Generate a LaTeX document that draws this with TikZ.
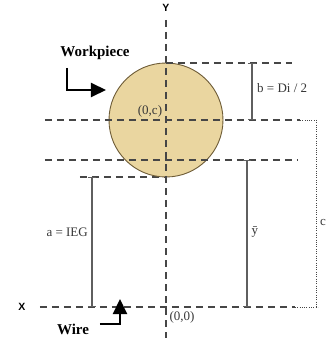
\documentclass[tikz,border=0pt]{standalone}
\usepackage{fontspec}
\setmainfont{Liberation Serif}
\newfontfamily\axisfont{Liberation Sans}
\usetikzlibrary{arrows.meta}
\begin{document}
\begin{tikzpicture}[x=1pt,y=1pt,
  guide/.style={draw=guidegray,line width=1.1pt,dash pattern=on 7pt off 5pt},
  dotguide/.style={draw=guidegray,line width=0.9pt,dash pattern=on 1pt off 1.3pt},
  dimline/.style={draw=dimgray,line width=1.1pt,{Bar[width=8pt]}-{Bar[width=8pt]}},
  pointer/.style={line width=2pt,-{Triangle[length=15pt,width=14pt]}},
  txt/.style={font=\fontsize{13}{15}\selectfont,text=labelgray,inner sep=0pt},
  tag/.style={font=\bfseries\fontsize{15}{17}\selectfont,inner sep=0pt},
  axislabel/.style={font=\axisfont\bfseries\fontsize{10.5}{12}\selectfont,inner sep=0pt}]
  \definecolor{guidegray}{RGB}{70,70,70}
  \definecolor{dimgray}{RGB}{95,95,95}
  \definecolor{labelgray}{RGB}{55,55,55}
  \definecolor{piecefill}{RGB}{234,214,160}
  \definecolor{pieceedge}{RGB}{110,92,55}
  \useasboundingbox (-166,-31) rectangle (160,307);
  \coordinate (O)    at (0,0);
  \coordinate (C)    at (0,187);
  \coordinate (T)    at (0,244);
  \coordinate (B)    at (0,130);
  \coordinate (Ytop) at (0,287);
  \coordinate (Ybot) at (0,-31);
  \coordinate (TR)   at (126,244);
  \coordinate (CL)   at (-121,187);
  \coordinate (CR)   at (134,187);
  \coordinate (CE)   at (152,187);
  \coordinate (ML)   at (-121,147);
  \coordinate (MR)   at (132,147);
  \coordinate (BL)   at (-86,130);
  \coordinate (XL)   at (-126,0);
  \coordinate (XR)   at (129,0);
  \coordinate (XE)   at (152,0);
  \coordinate (Cdot) at (150,187);
  \coordinate (Cbot) at (150,0);
  \coordinate (bT)   at (86,244);
  \coordinate (bB)   at (86,187);
  \coordinate (yT)   at (81,147);
  \coordinate (yB)   at (81,0);
  \coordinate (aT)   at (-74,130);
  \coordinate (aB)   at (-74,0);
  \coordinate (wp1)  at (-99,239);
  \coordinate (wp2)  at (-99,217);
  \coordinate (wp3)  at (-60,217);
  \coordinate (wr1)  at (-66,-17);
  \coordinate (wr2)  at (-46,-17);
  \coordinate (wr3)  at (-46,8);
  \draw[guide] (BL) -- (B);
  \fill[piecefill] (C) circle[radius=57];
  \draw[pieceedge,line width=0.9pt] (C) circle[radius=57];
  \draw[guide] (Ytop) -- (Ybot);
  \draw[guide] (T) -- (TR);
  \draw[guide] (CL) -- (CR);
  \draw[dotguide] (CR) -- (CE);
  \draw[guide] (ML) -- (MR);
  \draw[guide] (XL) -- (XR);
  \draw[dotguide] (XR) -- (XE);
  \draw[dotguide] (Cdot) -- (Cbot);
  \draw[dimline] (bT) -- (bB);
  \draw[dimline] (yT) -- (yB);
  \draw[dimline] (aT) -- (aB);
  \draw[pointer] (wp1) -- (wp2) -- (wp3);
  \draw[pointer] (wr1) -- (wr2) -- (wr3);
  \node[axislabel] (ylab) at (0,299) {Y};
  \node[axislabel] (xlab) at (-144,0) {X};
  \node[tag] (workpiece) at (-71,254) {Workpiece};
  \node[tag] (wire) at (-93,-22) {Wire};
  \node[txt] (centre) at (-16,196) {(0,c)};
  \node[txt] (origin) at (16,-10) {(0,0)};
  \node[txt,anchor=west] (blab) at (91,219) {b = Di / 2};
  \node[txt] (ybar) at (89,75) {ȳ};
  \node[txt,anchor=east] (alab) at (-78,75) {a = IEG};
  \node[txt] (clab) at (157,84) {c};
\end{tikzpicture}
\end{document}
